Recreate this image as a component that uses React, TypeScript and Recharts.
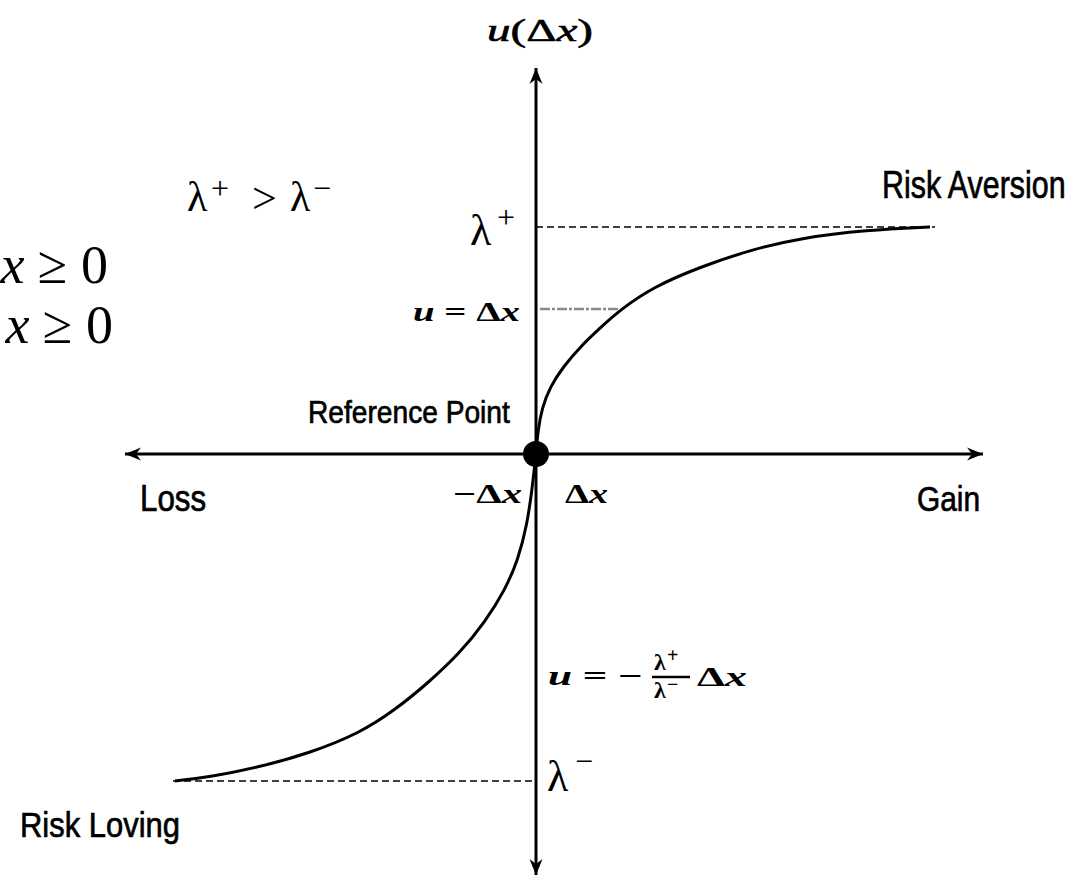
import { LineChart, Line, XAxis, YAxis, ReferenceDot } from "recharts";

// ── Data (1 unit ≈ one tenth of a Δx step) ───────────────────────────────────
const LAMBDA_PLUS = 22.7;
const LAMBDA_MINUS = -32.7;
const UNIT_LEVEL = 14.5; // where u = Δx

const lossX = [-36.1, -32.6, -27.6, -22.6, -17.6, -14.1, -10.8, -7.6, -5.1, -3.1, -1.8, -0.9, -0.4];
const lossU = [-32.7, -32.3, -31.3, -29.9, -27.9, -25.6, -22.9, -19.9, -16.8, -13.6, -10.6, -7.1, -3.6];
const gainX = [0, 0.2, 0.6, 1.4, 2.7, 4.4, 6.4, 8.4, 11.7, 16.4, 21.4, 26.4, 33.1, 39.4];
const gainU = [0, 2.4, 4.6, 6.7, 8.7, 10.7, 12.6, 14.4, 16.7, 18.7, 20.4, 21.6, 22.4, 22.7];

const xAxisExtent = [-41.1, 44.7];
const uAxisExtent = [-42.1, 38.6];
const plusLineEnd = 39.9;
const minusLineStart = -36.3;
const unitLineSpan = [0.4, 8.4];

const X_DOMAIN = [-53.6, 55.3];
const Y_DOMAIN = [-42.3, 45.4];

// ── Derived series ───────────────────────────────────────────────────────────
const curve = [
  ...lossX.map((x, i) => ({ x, y: lossU[i] })),
  ...gainX.map((x, i) => ({ x, y: gainU[i] })),
];
const hAxis = xAxisExtent.map((x) => ({ x, y: 0 }));
const vAxis = uAxisExtent.map((y) => ({ x: 0, y }));
const plusLine = [{ x: 0, y: LAMBDA_PLUS }, { x: plusLineEnd, y: LAMBDA_PLUS }];
const minusLine = [{ x: minusLineStart, y: LAMBDA_MINUS }, { x: 0, y: LAMBDA_MINUS }];
const unitLine = unitLineSpan.map((x) => ({ x, y: UNIT_LEVEL }));

const SERIF = "'Liberation Serif', 'DejaVu Serif', serif";
const SANS = "'Liberation Sans', Arial, sans-serif";

const arrow = (rot: number) => (props: any) => {
  const { cx, cy } = props;
  return (
    <polygon
      points="0,0 -16,-6.5 -11,0 -16,6.5"
      transform={`translate(${cx},${cy}) rotate(${rot})`}
      fill="#000"
    />
  );
};

const fit = { lengthAdjust: "spacingAndGlyphs" } as any;
const mathBold = { fontFamily: SERIF, fontWeight: "bold", ...fit };

// narrow sans label, squeezed horizontally like the original's condensed face
function Narrow({ x, y, size, sx, children }: any) {
  return (
    <text
      transform={`translate(${x},${y}) scale(${sx},1)`}
      fontFamily={SANS}
      fontSize={size}
      stroke="#000"
      strokeWidth={0.7}
    >
      {children}
    </text>
  );
}

function Labels() {
  return (
    <g fill="#000">
      {/* axis title */}
      <text x={487} y={41} fontSize={32} textLength={106} {...mathBold} fontWeight="normal" stroke="#000" strokeWidth={0.6}>
        <tspan fontStyle="italic">u</tspan>(Δ<tspan fontStyle="italic">x</tspan>)
      </text>

      {/* λ+ > λ− */}
      <text x={187} y={211} fontFamily={SERIF} fontSize={42}>λ</text>
      <text x={211} y={199} fontFamily={SERIF} fontSize={32}>+</text>
      <text x={252} y={213} fontFamily={SERIF} fontSize={44}>&gt;</text>
      <text x={290} y={211} fontFamily={SERIF} fontSize={42}>λ</text>
      <text x={313} y={199} fontFamily={SERIF} fontSize={32}>−</text>

      {/* clipped conditions */}
      <text x={108} y={283} textAnchor="end" fontFamily={SERIF} fontSize={54}>
        <tspan fontStyle="italic">x</tspan> ≥ 0
      </text>
      <text x={113} y={343} textAnchor="end" fontFamily={SERIF} fontSize={54}>
        <tspan fontStyle="italic">x</tspan> ≥ 0
      </text>

      {/* λ+ tick label */}
      <text x={470} y={245} fontFamily={SERIF} fontSize={44}>λ</text>
      <text x={497} y={228} fontFamily={SERIF} fontSize={32}>+</text>

      {/* u = Δx */}
      <text x={413} y={321} fontSize={28} textLength={107} {...mathBold}>
        <tspan fontStyle="italic">u</tspan> = Δ<tspan fontStyle="italic">x</tspan>
      </text>

      <Narrow x={308} y={423} size={32} sx={0.88}>Reference Point</Narrow>

      {/* −Δx, Δx */}
      <text x={453} y={503} fontSize={27} textLength={69} {...mathBold}>
        −Δ<tspan fontStyle="italic">x</tspan>
      </text>
      <text x={565} y={503} fontSize={27} textLength={43} {...mathBold}>
        Δ<tspan fontStyle="italic">x</tspan>
      </text>

      <Narrow x={140} y={511} size={36} sx={0.87}>Loss</Narrow>
      <Narrow x={917} y={511} size={36} sx={0.83}>Gain</Narrow>
      <Narrow x={882} y={198} size={38} sx={0.8}>Risk Aversion</Narrow>
      <Narrow x={20} y={837} size={36} sx={0.86}>Risk Loving</Narrow>

      {/* u = −(λ+/λ−)Δx */}
      <text x={548} y={685} fontSize={28} textLength={95} {...mathBold}>
        <tspan fontStyle="italic">u</tspan> = −
      </text>
      <text x={654} y={670} fontFamily={SERIF} fontSize={24} fontWeight="bold">λ</text>
      <text x={667} y={662} fontFamily={SERIF} fontSize={20} fontWeight="bold">+</text>
      <line x1={652} x2={690} y1={677} y2={677} stroke="#000" strokeWidth={2.5} />
      <text x={654} y={698} fontFamily={SERIF} fontSize={24} fontWeight="bold">λ</text>
      <text x={667} y={691} fontFamily={SERIF} fontSize={20} fontWeight="bold">−</text>
      <text x={697} y={686} fontSize={28} textLength={50} {...mathBold}>
        Δ<tspan fontStyle="italic">x</tspan>
      </text>

      {/* λ− tick label */}
      <text x={547} y={791} fontFamily={SERIF} fontSize={44}>λ</text>
      <text x={575} y={772} fontFamily={SERIF} fontSize={32}>−</text>
    </g>
  );
}

const seg = { dot: false, activeDot: false, isAnimationActive: false, legendType: "none" } as any;

export default function App() {
  return (
    <div style={{ position: "absolute", left: 0, top: 0, background: "#fff" }}>
      <LineChart width={1089} height={877} margin={{ top: 0, right: 0, bottom: 0, left: 0 }}>
        <XAxis dataKey="x" type="number" domain={X_DOMAIN} hide allowDataOverflow />
        <YAxis type="number" domain={Y_DOMAIN} hide allowDataOverflow />

        <Line data={hAxis} dataKey="y" type="linear" stroke="#000" strokeWidth={3} {...seg} />
        <Line data={vAxis} dataKey="y" type="linear" stroke="#000" strokeWidth={3} {...seg} />

        <Line data={plusLine} dataKey="y" type="linear" stroke="#000" strokeWidth={1.5} strokeDasharray="7 4" {...seg} />
        <Line data={minusLine} dataKey="y" type="linear" stroke="#000" strokeWidth={1.5} strokeDasharray="7 4" {...seg} />
        <Line data={unitLine} dataKey="y" type="linear" stroke="#8a8a8a" strokeWidth={2.5} strokeDasharray="10 2 3 2" {...seg} />

        <Line data={curve} dataKey="y" type="basis" stroke="#000" strokeWidth={3} {...seg} />

        <ReferenceDot x={xAxisExtent[1]} y={0} shape={arrow(0)} />
        <ReferenceDot x={xAxisExtent[0]} y={0} shape={arrow(180)} />
        <ReferenceDot x={0} y={uAxisExtent[1]} shape={arrow(270)} />
        <ReferenceDot x={0} y={uAxisExtent[0]} shape={arrow(90)} />
        <ReferenceDot x={0} y={0} r={13} fill="#000" stroke="none" />

        <Labels />
      </LineChart>
    </div>
  );
}
